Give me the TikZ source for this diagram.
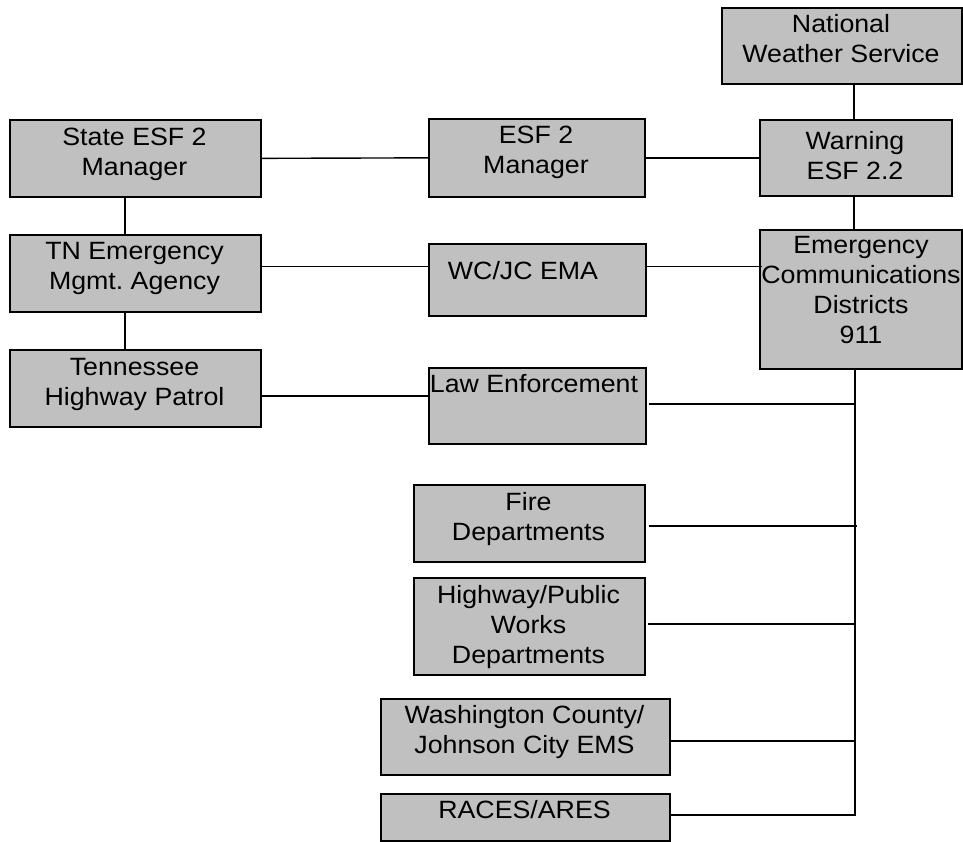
\documentclass[tikz,border=0pt]{standalone}
\usepackage{fontspec}
\setmainfont{Liberation Sans}[FakeStretch=1.07]
\frenchspacing
\begin{document}
\begin{tikzpicture}[x=1pt,y=-1pt,
  box/.style={draw=black,fill=boxgray,line width=1.7pt,rectangle,inner sep=0pt,anchor=north west},
  lbl/.style={align=center,inner sep=0pt,font=\fontsize{25}{30}\selectfont},
  link/.style={draw=black,line width=1.4pt}]
\definecolor{boxgray}{RGB}{192,192,192}
\useasboundingbox (0,0) rectangle (963,842);

% boxes
\node[box,minimum width=240pt,minimum height=76pt]  (nws)   at (721,7)   {};
\node[box,minimum width=192pt,minimum height=76pt]  (warn)  at (759,119) {};
\node[box,minimum width=202pt,minimum height=139pt] (ecd)   at (759,229) {};
\node[box,minimum width=251pt,minimum height=77pt]  (state) at (9,119)   {};
\node[box,minimum width=251pt,minimum height=77pt]  (tema)  at (9,234)   {};
\node[box,minimum width=251pt,minimum height=77pt]  (thp)   at (9,349)   {};
\node[box,minimum width=216pt,minimum height=78pt]  (esf)   at (428,118) {};
\node[box,minimum width=217pt,minimum height=72pt]  (wcjc)  at (428,243) {};
\node[box,minimum width=217pt,minimum height=76pt]  (law)   at (428,367) {};
\node[box,minimum width=231pt,minimum height=77pt]  (fire)  at (413,484) {};
\node[box,minimum width=231pt,minimum height=97pt]  (hwy)   at (413,577) {};
\node[box,minimum width=289pt,minimum height=76pt]  (wash)  at (380,698) {};
\node[box,minimum width=289pt,minimum height=47pt]  (races) at (380,793) {};

% labels
\node[lbl] (tnws)   at (841,42)    {National\strut\\Weather Service\strut};
\node[lbl] (twarn)  at (855,159)   {Warning\strut\\ESF 2.2\strut};
\node[lbl] (tecd)   at (861,292)   {Emergency\strut\\Communications\strut\\Districts\strut\\911\strut};
\node[lbl] (tstate) at (134.5,154.5) {State ESF 2\strut\\Manager\strut};
\node[lbl] (ttema)  at (134.5,268.5) {TN Emergency\strut\\Mgmt.\ Agency\strut};
\node[lbl] (tthp)   at (134.5,384) {Tennessee\strut\\Highway Patrol\strut};
\node[lbl] (tesf)   at (536,153)   {ESF 2\strut\\Manager\strut};
\node[lbl] (twcjc)  at (523,274)   {WC/JC EMA\strut};
\node[lbl] (tlaw)   at (534,386)   {Law Enforcement\strut};
\node[lbl] (tfire)  at (528.5,519) {Fire\strut\\Departments\strut};
\node[lbl] (thwy)   at (528.5,627) {Highway/Public\strut\\Works\strut\\Departments\strut};
\node[lbl] (twash)  at (524.5,732) {Washington County/\strut\\Johnson City EMS\strut};
\node[lbl] (traces) at (524.5,812) {RACES/ARES\strut};

% routing guides
\coordinate (lx)  at (125,0);
\coordinate (rx)  at (854,0);
\coordinate (r1)  at (0,266.5);
\coordinate (r2)  at (0,396);
\coordinate (b1)  at (855,404);
\coordinate (b2)  at (857,526);
\coordinate (b3)  at (855,624);
\coordinate (b4)  at (855,741);
\coordinate (b5)  at (855,815);

% connectors
\draw[link] (state.east) -- (esf.west);
\draw[link] (esf.east) -- (warn.west);
\draw[link] (nws.south -| rx) -- (warn.north -| rx);
\draw[link] (warn.south -| rx) -- (ecd.north -| rx);
\draw[link] (state.south -| lx) -- (tema.north -| lx);
\draw[link] (tema.south -| lx) -- (thp.north -| lx);
\draw[link] (tema.east |- r1) -- (wcjc.west |- r1);
\draw[link] (wcjc.east |- r1) -- ([xshift=3pt]ecd.west |- r1);
\draw[link] (thp.east |- r2) -- (law.west |- r2);
\draw[link] ([xshift=2pt]law.east |- b1) -- (b1);
\draw[link] ([xshift=3pt]fire.east |- b2) -- (b2);
\draw[link] ([xshift=2pt]hwy.east |- b3) -- (b3);
\draw[link] (wash.east |- b4) -- (b4);
\draw[link] (races.east |- b5) -- (b5) -- (ecd.south -| b5);
\end{tikzpicture}
\end{document}
